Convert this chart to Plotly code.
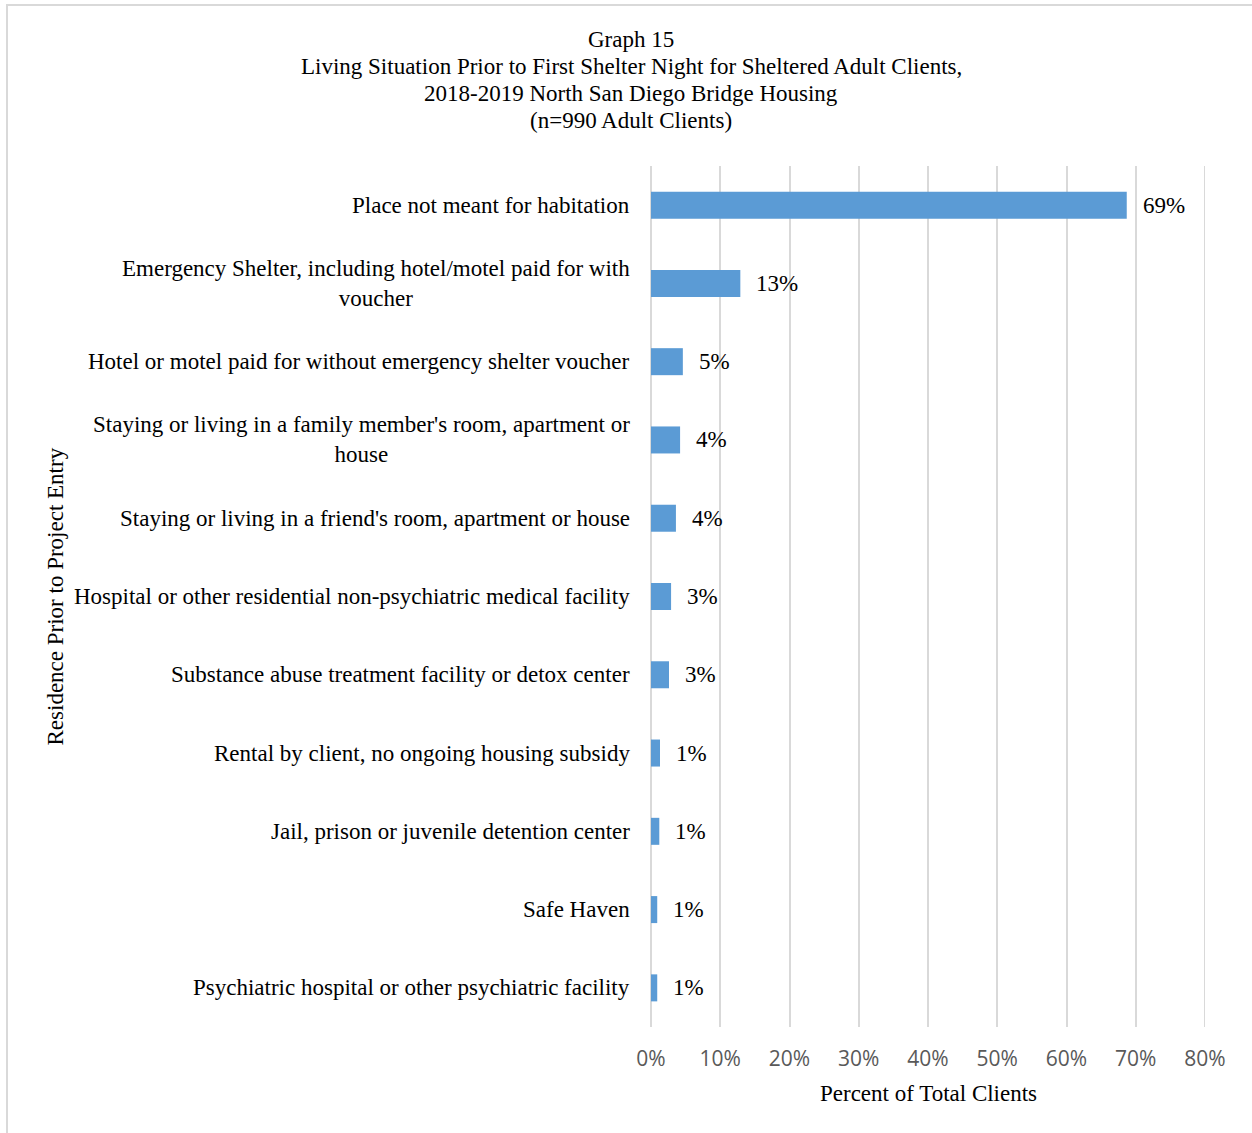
import plotly.graph_objects as go

# Prior living situation of sheltered adult clients (percent of total clients)
categories = [
    "Place not meant for habitation",
    "Emergency Shelter, including hotel/motel paid for with<br>voucher",
    "Hotel or motel paid for without emergency shelter voucher",
    "Staying or living in a family member's room, apartment or<br>house",
    "Staying or living in a friend's room, apartment or house",
    "Hospital or other residential non-psychiatric medical facility",
    "Substance abuse treatment facility or detox center",
    "Rental by client, no ongoing housing subsidy",
    "Jail, prison or juvenile detention center",
    "Safe Haven",
    "Psychiatric hospital or other psychiatric facility",
]
percent = [68.7, 12.9, 4.6, 4.2, 3.6, 2.9, 2.6, 1.3, 1.2, 0.9, 0.9]
x_ticks = [0, 10, 20, 30, 40, 50, 60, 70, 80]

title_lines = [
    "Graph 15",
    "Living Situation Prior to First Shelter Night for Sheltered Adult Clients,",
    "2018-2019 North San Diego Bridge Housing",
    "(n=990 Adult Clients)",
]

SERIF = "Liberation Serif"
SANS = "Open Sans"
TXT = 23
GRID = "#d9d9d9"
W, H = 1252, 1133
ML, MR, MT, MB = 651, 47, 166, 106
PW, PH = W - ML - MR, H - MT - MB

fig = go.Figure(
    go.Bar(
        x=percent,
        y=categories,
        orientation="h",
        marker=dict(color="#5b9bd5", line=dict(width=0)),
        hoverinfo="skip",
    )
)

annotations = []
# category labels, centred multi-line, right-aligned against the plot
for cat in categories:
    annotations.append(dict(
        x=0, xref="paper", y=cat, yref="y", xanchor="right", yanchor="middle",
        xshift=-19, text=cat, align="center", showarrow=False,
        font=dict(family=SERIF, size=TXT, color="#000000"),
    ))
# value labels beside each bar
for cat, v in zip(categories, percent):
    annotations.append(dict(
        x=v, xref="x", y=cat, yref="y", xanchor="left", yanchor="middle",
        xshift=14, text=f"{round(v)}%", showarrow=False,
        font=dict(family=SERIF, size=TXT, color="#000000"),
    ))
# title lines
for i, line in enumerate(title_lines):
    annotations.append(dict(
        x=(631 - ML) / PW, xref="paper", y=(H - MB - (39 + 27 * i)) / PH, yref="paper",
        xanchor="center", yanchor="middle", text=line, showarrow=False,
        font=dict(family=SERIF, size=TXT, color="#000000"),
    ))
# axis titles
annotations.append(dict(
    x=(55 - ML) / PW, xref="paper", y=0.5, yref="paper", xanchor="center", yanchor="middle",
    text="Residence Prior to Project Entry", textangle=-90, showarrow=False,
    font=dict(family=SERIF, size=TXT, color="#000000"),
))
annotations.append(dict(
    x=0.5, xref="paper", y=(H - MB - 1093) / PH, yref="paper", xanchor="center", yanchor="middle",
    text="Percent of Total Clients", showarrow=False,
    font=dict(family=SERIF, size=TXT, color="#000000"),
))

shapes = [
    # outer chart border
    dict(type="rect", xref="paper", yref="paper",
         x0=(7 - ML) / PW, x1=2.0, y0=-1.0, y1=(H - MB - 5) / PH,
         line=dict(color=GRID, width=2), fillcolor="rgba(0,0,0,0)", layer="below"),
    # gridline at the far end of the axis
    dict(type="line", xref="x", yref="paper", x0=x_ticks[-1], x1=x_ticks[-1], y0=0, y1=1,
         line=dict(color=GRID, width=2), layer="below"),
]

fig.update_layout(
    width=W, height=H,
    margin=dict(l=ML, r=MR, t=MT, b=MB, autoexpand=False),
    paper_bgcolor="white", plot_bgcolor="white",
    bargap=0.655,
    showlegend=False,
    annotations=annotations,
    shapes=shapes,
    xaxis=dict(
        range=[x_ticks[0], x_ticks[-1]], tickvals=x_ticks, ticktext=[f"{t}%" for t in x_ticks],
        showgrid=True, gridcolor=GRID, gridwidth=2,
        zeroline=True, zerolinecolor=GRID, zerolinewidth=2,
        showline=False, ticks="",
        ticklabelstandoff=17,
        tickfont=dict(family=SANS, size=21, color="#595959"),
        fixedrange=True,
    ),
    yaxis=dict(
        autorange="reversed", showticklabels=False, showgrid=False,
        zeroline=False, showline=False, ticks="", fixedrange=True,
    ),
)

fig.write_html("out.html")
